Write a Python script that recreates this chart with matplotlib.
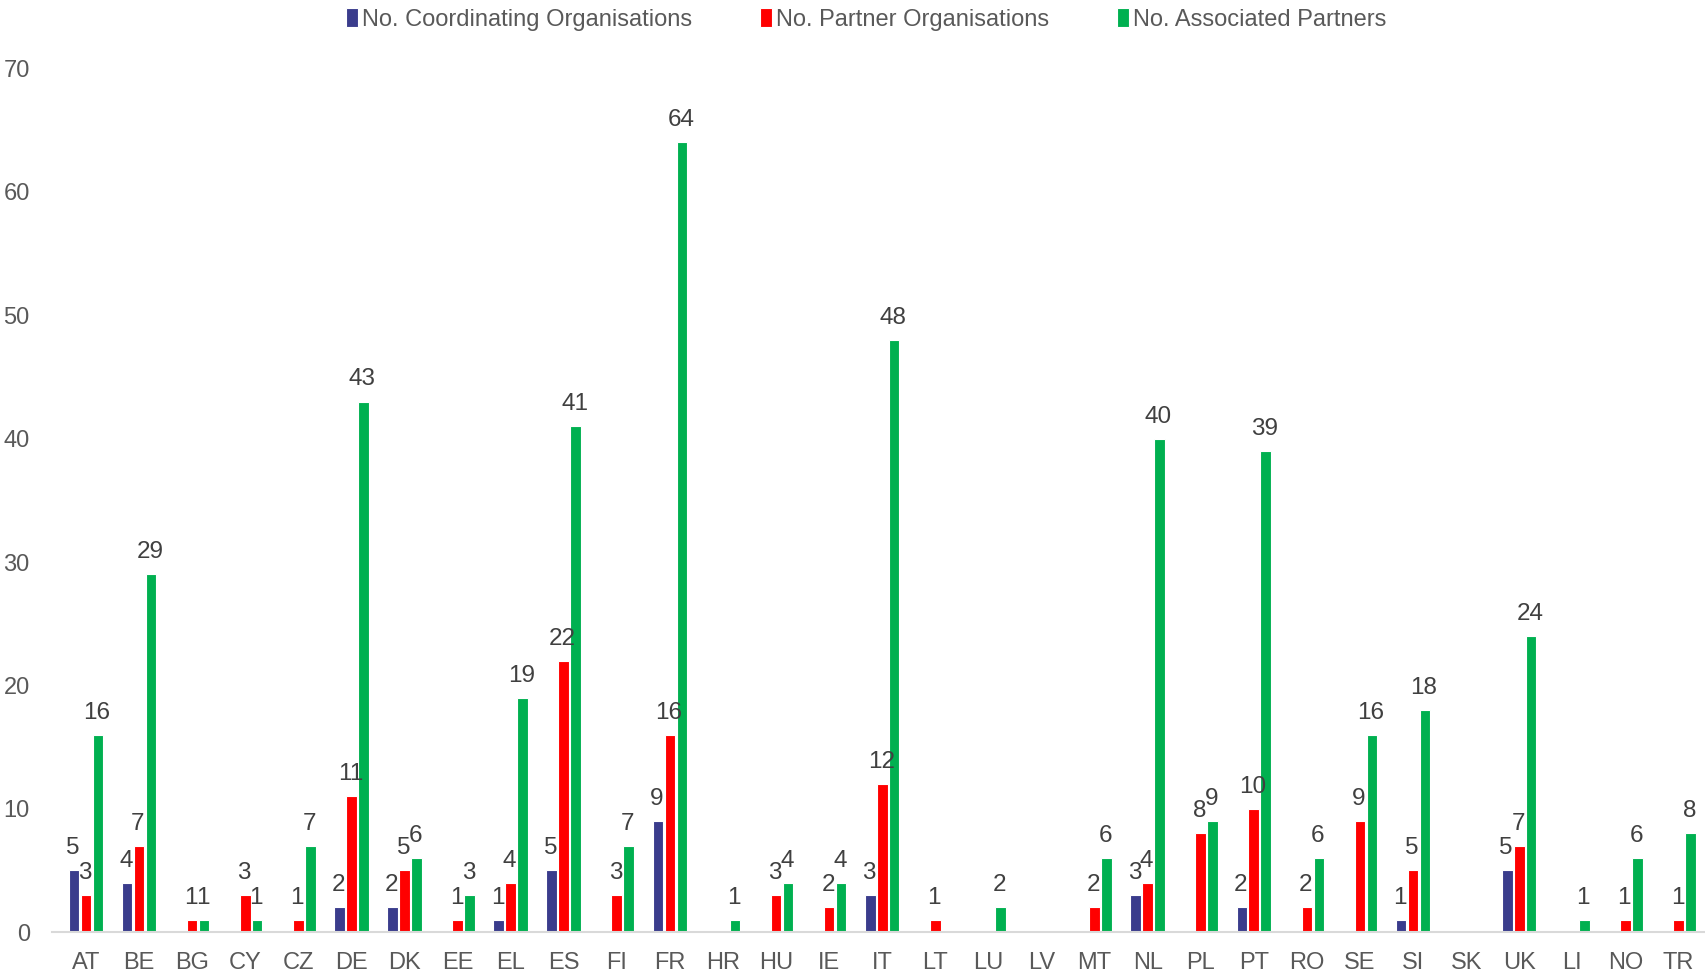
import numpy as np
import matplotlib.pyplot as plt

plt.rcParams['font.family'] = ['Liberation Sans', 'DejaVu Sans']

paises = ['AT', 'BE', 'BG', 'CY', 'CZ', 'DE', 'DK', 'EE', 'EL', 'ES', 'FI', 'FR', 'HR', 'HU', 'IE',
          'IT', 'LT', 'LU', 'LV', 'MT', 'NL', 'PL', 'PT', 'RO', 'SE', 'SI', 'SK', 'UK', 'LI', 'NO', 'TR']
coordinadores = [5, 4, 0, 0, 0, 2, 2, 0, 1, 5, 0, 9, 0, 0, 0, 3, 0, 0, 0, 0, 3, 0, 2, 0, 0, 1, 0, 5, 0, 0, 0]
socios = [3, 7, 1, 3, 1, 11, 5, 1, 4, 22, 3, 16, 0, 3, 2, 12, 1, 0, 0, 2, 4, 8, 10, 2, 9, 5, 0, 7, 0, 1, 1]
asociados = [16, 29, 1, 1, 7, 43, 6, 3, 19, 41, 7, 64, 1, 4, 4, 48, 0, 2, 0, 6, 40, 9, 39, 6, 16, 18, 0, 24, 1, 6, 8]

series = [
    ('No. Coordinating Organisations', coordinadores, '#3A3C8C'),
    ('No. Partner Organisations', socios, '#FF0000'),
    ('No. Associated Partners', asociados, '#00B050'),
]

fig = plt.figure(figsize=(17.05, 9.71), dpi=100)
ax = fig.add_axes([0.0305, 0.040, 0.9695, 0.8895])

x = np.arange(len(paises))
paso = 0.225
ancho = 0.2
for i, (nombre, valores, color) in enumerate(series):
    pos = x + (i - 1) * paso
    ax.bar(pos, valores, width=ancho, color=color, edgecolor='white', linewidth=0.8, label=nombre)
    for p, v in zip(pos, valores):
        if v > 0:
            ax.text(p - 0.02, v + 0.9, str(v), ha='center', va='bottom', fontsize=17.5, color='#404040')

ax.set_xlim(-0.64, len(paises) - 0.5)
ax.set_ylim(0, 70)
ax.set_yticks(range(0, 71, 10))
ax.set_xticks(x)
ax.set_xticklabels(paises)
ax.tick_params(axis='both', length=0, labelsize=17, colors='#595959')
ax.tick_params(axis='y', pad=16)
ax.tick_params(axis='x', pad=14)
for lado in ['top', 'right', 'left']:
    ax.spines[lado].set_visible(False)
ax.spines['bottom'].set_color('#D9D9D9')
ax.spines['bottom'].set_linewidth(1.5)

fig.legend(loc='upper center', bbox_to_anchor=(0.508, 1.014), ncol=3, frameon=False, fontsize=17,
           handlelength=0.5, handleheight=0.9, handletextpad=0.15, columnspacing=2.9, labelcolor='#595959')

plt.savefig('out.png')
